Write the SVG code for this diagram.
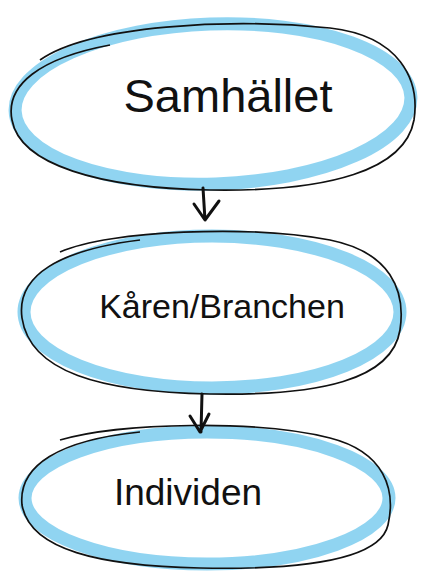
<svg xmlns="http://www.w3.org/2000/svg" width="423" height="582" viewBox="0 0 423 582">
<style>
.blue{fill:none;stroke:#74c9ee;stroke-width:13;opacity:0.8}
.ink{fill:none;stroke:#111;stroke-width:1.7}
.lbl{font-family:"Liberation Sans","DejaVu Sans",sans-serif;fill:#111}
.arr{fill:none;stroke:#111;stroke-width:3;stroke-linecap:round;stroke-linejoin:round}
</style>
<rect width="423" height="582" fill="#fff"/>
<g id="samhallet">
<ellipse class="blue" cx="213" cy="104" rx="198" ry="80" transform="rotate(-2 213 104)"/>
<path class="ink" d="M40,60 C90,25 230,18 330,28 C400,36 420,80 414,120 C405,170 330,192 210,190 C100,188 20,165 12,120 C5,85 40,58 110,45"/>
<text class="lbl" x="228" y="112" font-size="47" text-anchor="middle">Samhället</text>
</g>
<g id="karen">
<ellipse class="blue" cx="212" cy="312" rx="188" ry="76"/>
<path class="ink" d="M60,252 C110,230 250,225 330,240 C390,252 406,290 400,330 C392,380 320,396 210,394 C100,392 30,372 22,318 C16,275 60,250 140,240"/>
<text class="lbl" x="222" y="318" font-size="34" text-anchor="middle">Kåren/Branchen</text>
</g>
<g id="individen">
<ellipse class="blue" cx="207" cy="498" rx="182" ry="66"/>
<path class="ink" d="M60,440 C120,422 260,420 330,438 C385,452 396,490 388,525 C380,560 300,570 200,568 C100,566 30,550 22,505 C18,465 60,440 140,432"/>
<text class="lbl" x="188" y="505" font-size="37" text-anchor="middle">Individen</text>
</g>
<g id="connectors">
<path class="arr" d="M203,188 L205,220 M194,204 L205,220 L219,201"/>
<path class="arr" d="M202,394 L201,432 M190,416 L200,432 L209,414"/>
</g>
</svg>
